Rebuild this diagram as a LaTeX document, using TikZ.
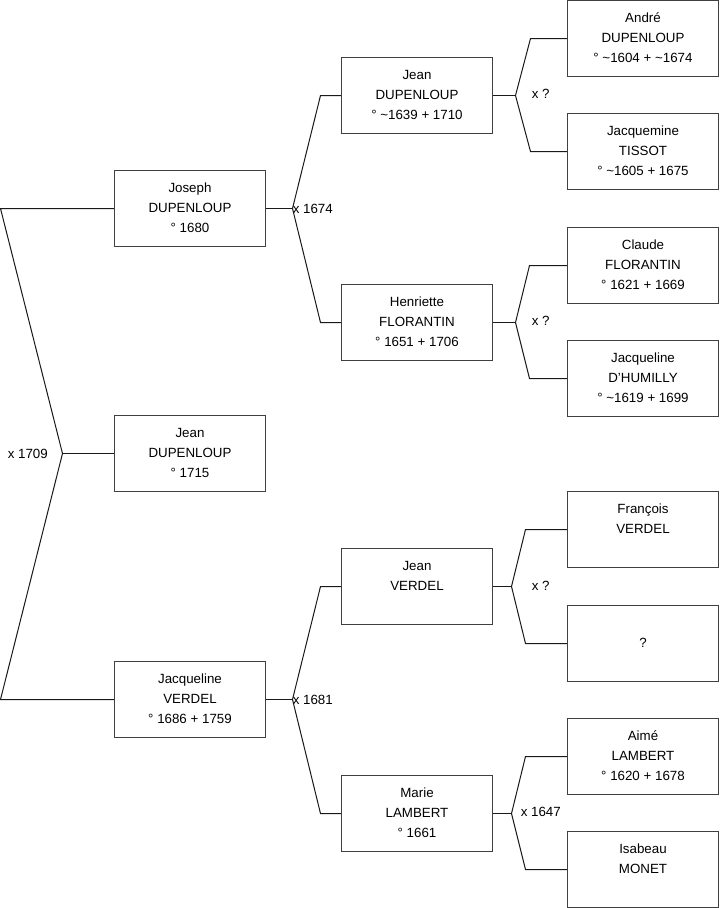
\documentclass[tikz,border=0pt]{standalone}
\usepackage{fontspec}
\setmainfont{Liberation Sans}
\begin{document}
\begin{tikzpicture}[x=0.75pt,y=-0.75pt,
  person/.style={draw=black!75,line width=0.9pt,minimum width=113.25pt,minimum height=57pt,inner sep=0pt,align=center,font=\fontsize{10}{15}\selectfont},
  link/.style={draw=black!90,line width=0.75pt},
  lbl/.style={anchor=west,inner sep=0pt,font=\fontsize{10}{12}\selectfont}]
\useasboundingbox (0,0) rectangle (719,908);
\begin{scope}[shift={(0.5,0.5)}]
% generation 1
\node[person] (joseph) at (189.5,208) {\strut Joseph\\\strut DUPENLOUP\\\strut ° 1680};
\node[person] (jean) at (189.5,453) {\strut Jean\\\strut DUPENLOUP\\\strut ° 1715};
\node[person] (jacq) at (189.5,699) {\strut Jacqueline\\\strut VERDEL\\\strut ° 1686 + 1759};
% generation 2
\node[person] (jeanD) at (416.5,95) {\strut Jean\\\strut DUPENLOUP\\\strut ° \textasciitilde1639 + 1710};
\node[person] (henr) at (416.5,322) {\strut Henriette\\\strut FLORANTIN\\\strut ° 1651 + 1706};
\node[person] (jeanV) at (416.5,586) {\strut Jean\\\strut VERDEL\\\strut};
\node[person] (marie) at (416.5,813) {\strut Marie\\\strut LAMBERT\\\strut ° 1661};
% generation 3
\node[person] (andre) at (642.5,38) {\strut André\\\strut DUPENLOUP\\\strut ° \textasciitilde1604 + \textasciitilde1674};
\node[person] (jacquemine) at (642.5,151) {\strut Jacquemine\\\strut TISSOT\\\strut ° \textasciitilde1605 + 1675};
\node[person] (claude) at (642.5,265) {\strut Claude\\\strut FLORANTIN\\\strut ° 1621 + 1669};
\node[person] (dhumilly) at (642.5,378) {\strut Jacqueline\\\strut D'HUMILLY\\\strut ° \textasciitilde1619 + 1699};
\node[person] (francois) at (642.5,529) {\strut François\\\strut VERDEL\\\strut};
\node[person] (unknown) at (642.5,643) {\strut\\\strut ?\\\strut};
\node[person] (aime) at (642.5,756) {\strut Aimé\\\strut LAMBERT\\\strut ° 1620 + 1678};
\node[person] (isabeau) at (642.5,869) {\strut Isabeau\\\strut MONET\\\strut};
% root couple
\coordinate (r1) at (0,208);
\coordinate (rv) at (62,453);
\coordinate (r2) at (0,699);
\draw[link] (joseph.west) -- (r1) -- (rv) -- (r2) -- (jacq.west);
\draw[link] (rv) -- (jean.west);
\node[lbl] (m0) at (7,453) {x 1709};
% Joseph's parents
\coordinate (av) at (292,208);
\coordinate (a1) at (320,95);
\coordinate (a2) at (320,322);
\draw[link] (joseph.east) -- (av);
\draw[link] (jeanD.west) -- (a1) -- (av) -- (a2) -- (henr.west);
\node[lbl] (m1) at (292,208) {x 1674};
% Jacqueline's parents
\coordinate (bv) at (292,699);
\coordinate (b1) at (320,586);
\coordinate (b2) at (320,813);
\draw[link] (jacq.east) -- (bv);
\draw[link] (jeanV.west) -- (b1) -- (bv) -- (b2) -- (marie.west);
\node[lbl] (m2) at (292,699) {x 1681};
% Jean DUPENLOUP's parents
\coordinate (cv) at (515,95);
\coordinate (c1) at (530,38);
\coordinate (c2) at (530,151);
\draw[link] (jeanD.east) -- (cv);
\draw[link] (andre.west) -- (c1) -- (cv) -- (c2) -- (jacquemine.west);
\node[lbl] (m3) at (531,93) {x ?};
% Henriette's parents
\coordinate (dv) at (515,322);
\coordinate (d1) at (529,265);
\coordinate (d2) at (529,378);
\draw[link] (henr.east) -- (dv);
\draw[link] (claude.west) -- (d1) -- (dv) -- (d2) -- (dhumilly.west);
\node[lbl] (m4) at (531,320) {x ?};
% Jean VERDEL's parents
\coordinate (ev) at (511,586);
\coordinate (e1) at (525,529);
\coordinate (e2) at (525,643);
\draw[link] (jeanV.east) -- (ev);
\draw[link] (francois.west) -- (e1) -- (ev) -- (e2) -- (unknown.west);
\node[lbl] (m5) at (531,585) {x ?};
% Marie's parents
\coordinate (fv) at (511,813);
\coordinate (f1) at (525,756);
\coordinate (f2) at (525,869);
\draw[link] (marie.east) -- (fv);
\draw[link] (aime.west) -- (f1) -- (fv) -- (f2) -- (isabeau.west);
\node[lbl] (m6) at (520,811) {x 1647};
\end{scope}
\end{tikzpicture}
\end{document}
